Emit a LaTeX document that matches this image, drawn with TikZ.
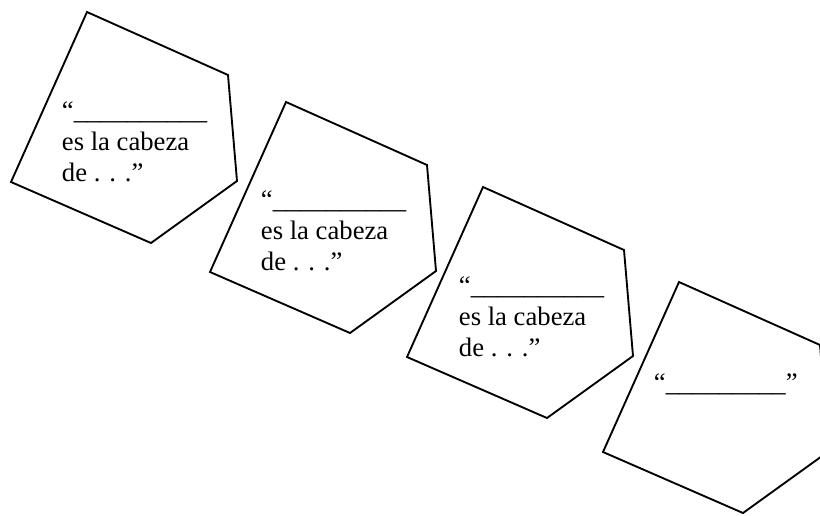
\documentclass[tikz,border=0pt]{standalone}
\usepackage{fontspec}
\setmainfont{Liberation Serif}

\begin{document}
\begin{tikzpicture}[x=0.75pt,y=-0.75pt,line width=1.4pt,
    card/.style={draw,line join=miter},
    phrase/.style={anchor=base west,inner sep=0pt,align=left,
      font=\fontsize{20}{23.25}\selectfont}]
    \useasboundingbox (0,0) rectangle (820,515);
    \clip (0,0) rectangle (820,515);
    % the four cards
    \draw[card] (87,12) -- (228,75) -- (237,181) -- (151,243) -- (11,182) -- cycle;
    \draw[card] (286,102) -- (427,165) -- (436,271) -- (350,333) -- (210,272) -- cycle;
    \draw[card] (483,187) -- (624,250) -- (633,356) -- (547,418) -- (407,357) -- cycle;
    \draw[card] (679,282) -- (820,345) -- (829,451) -- (743,513) -- (603,452) -- cycle;
    % what is written on them (base = last line)
    \node[phrase] (t1) at (61,181) {“\_\_\_\_\_\_\_\_\_\_\\es la cabeza\\de . . .”};
    \node[phrase] (t2) at (260,270) {“\_\_\_\_\_\_\_\_\_\_\\es la cabeza\\de . . .”};
    \node[phrase] (t3) at (458,356) {“\_\_\_\_\_\_\_\_\_\_\\es la cabeza\\de . . .”};
    \node[phrase] (t4) at (653,391) {“\_\_\_\_\_\_\_\_\_”};
\end{tikzpicture}
\end{document}
